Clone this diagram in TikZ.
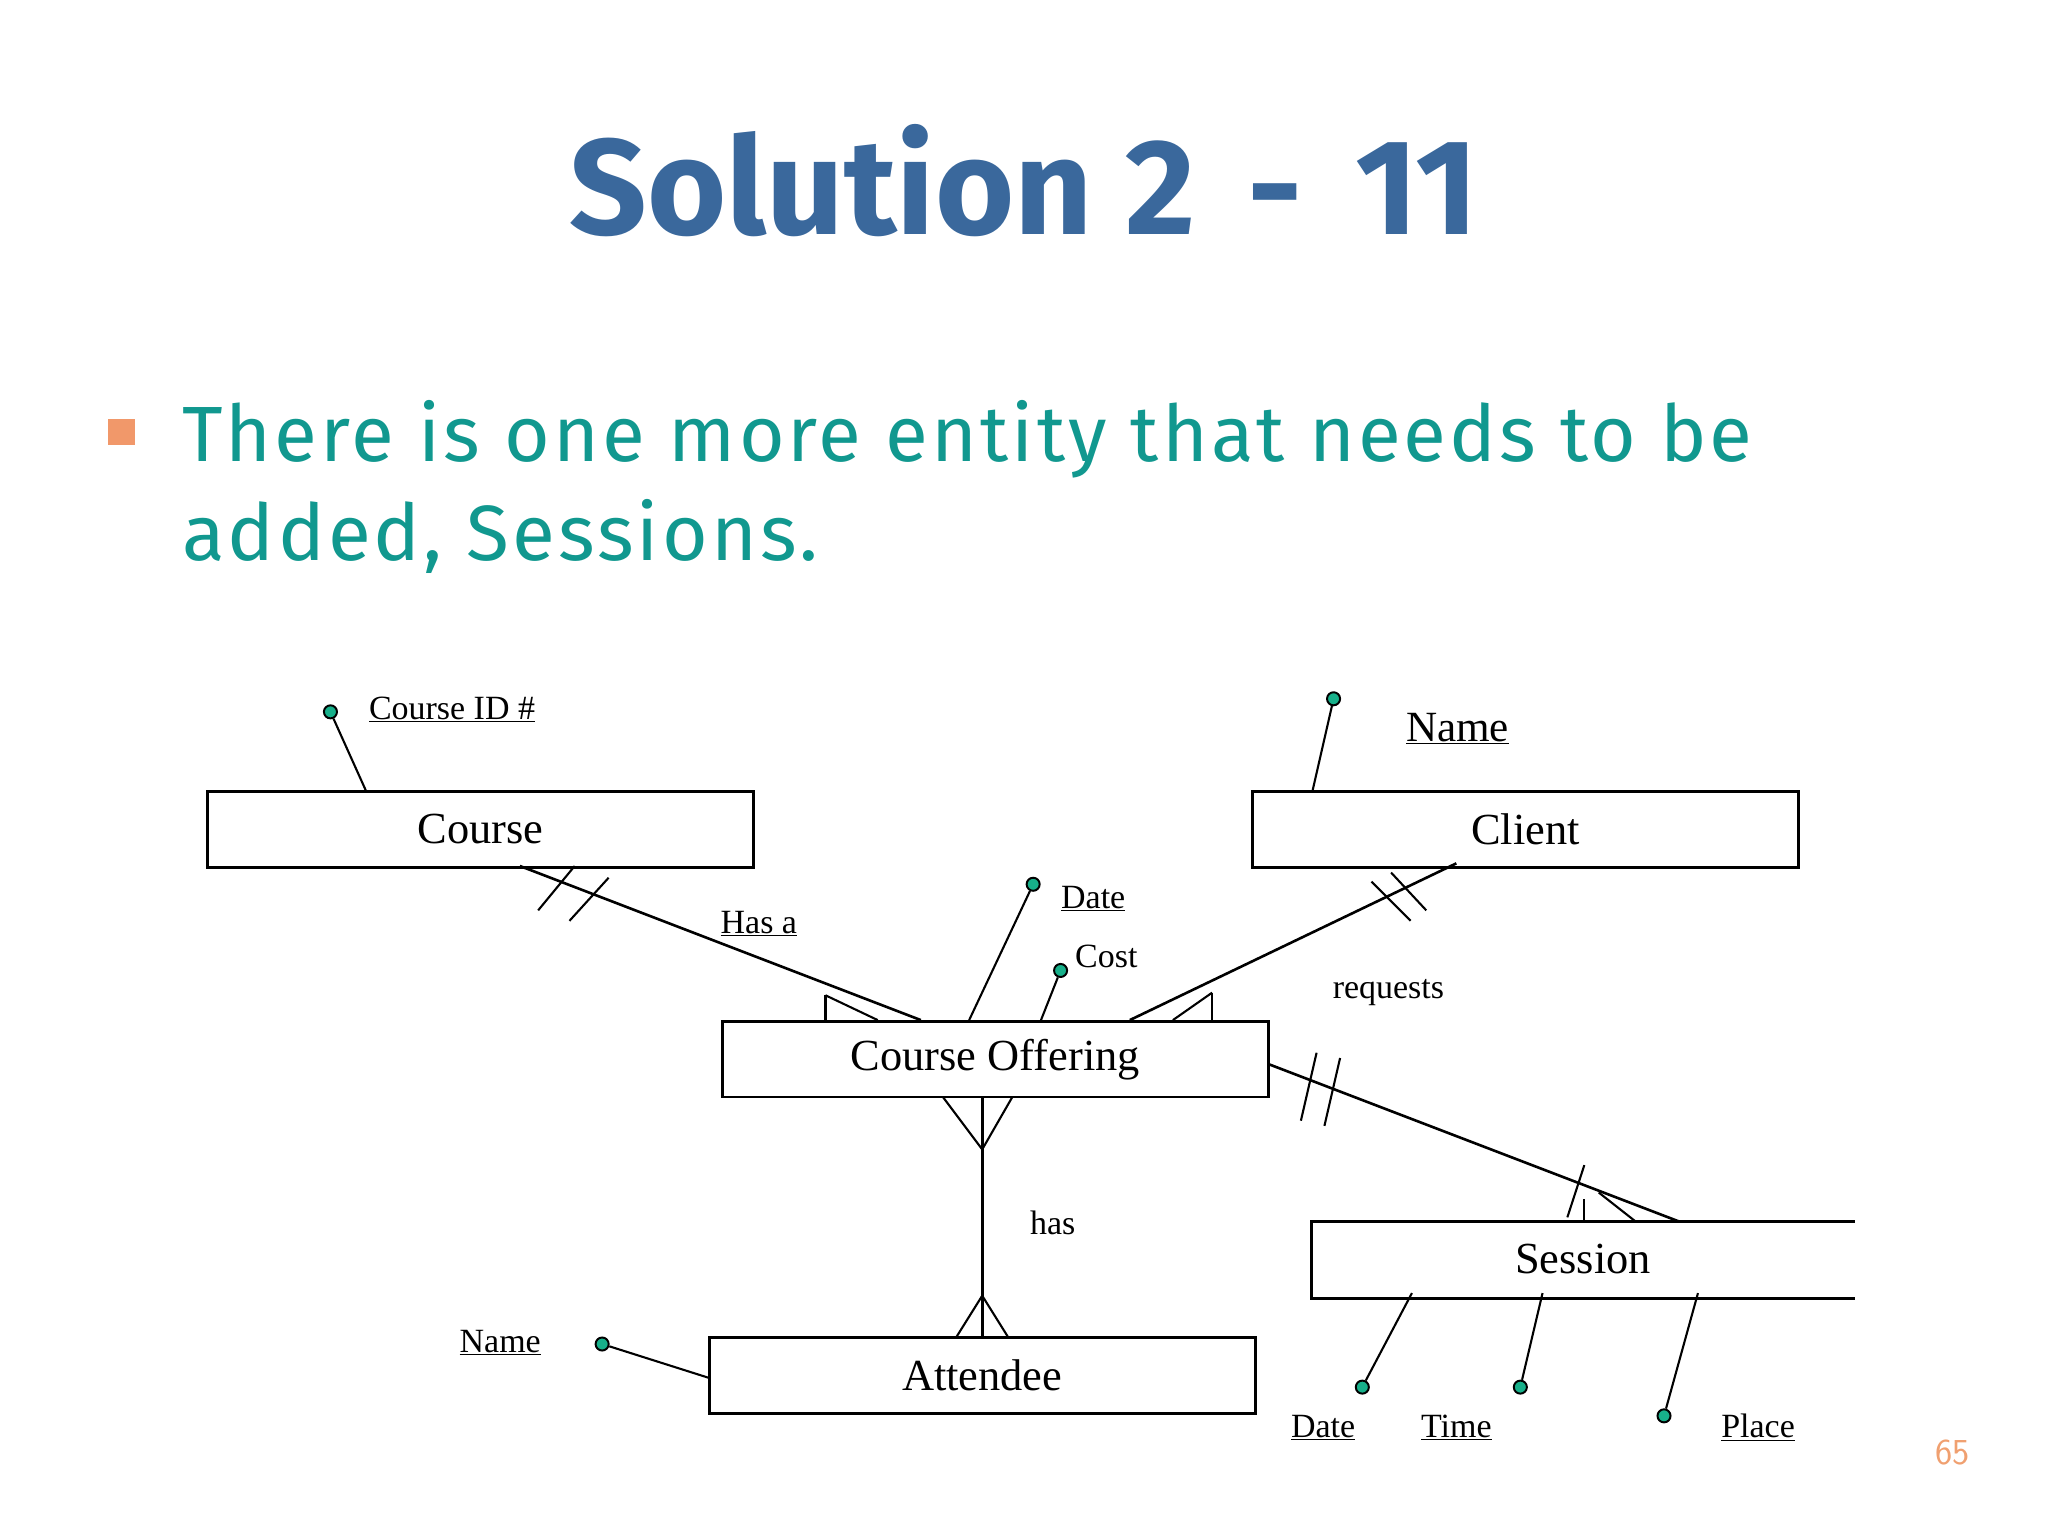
\documentclass[tikz,border=0pt]{standalone}
\usepackage{fontspec}
\setmainfont{Liberation Serif}
\newfontfamily\titlefont{Fira Sans}
\newfontfamily\bulfont[LetterSpace=4]{Fira Sans}
\definecolor{titleblue}{HTML}{3A689C}
\definecolor{teal}{HTML}{11988F}
\definecolor{dotgreen}{HTML}{17B08A}
\definecolor{pnum}{HTML}{F0A070}
\begin{document}
\begin{tikzpicture}[x=1pt,y=-1pt,
  ent/.style={draw,line width=2pt,minimum width=418pt,minimum height=58pt,inner sep=0pt,font=\fontsize{34}{38}\selectfont},
  att/.style={font=\fontsize{26}{30}\selectfont},
  rel/.style={line width=2pt},
  thin/.style={line width=1.6pt},
  dot/.style={circle,draw=black,fill=dotgreen,line width=1.5pt,inner sep=0pt,minimum size=10pt}]
\useasboundingbox (0,0) rectangle (1568,1176);
\node[font=\titlefont\bfseries\fontsize{104}{110}\selectfont,text=titleblue] (title) at (784,138) {Solution 2\hspace{40pt}-\hspace{40pt}11};
\fill[pnum!95!red] (83,321) rectangle (103,341);
\node[anchor=west,font=\bulfont\fontsize{60}{76}\selectfont,text=teal,align=left] (bul) at (136,373) {There is one more entity that needs to be\\added, Sessions.};
% entities
\node[ent] (course) at (368,635) {Course};
\node[ent] (client) at (1168,635) {Client};
\node[ent] (co) at (762,811) {Course Offering};
\node[ent] (att) at (752,1053) {Attendee};
\node[ent,draw=none] (ses) at (1212,964) {Session};
\draw[line width=2pt] (1420,935) -- (1004,935) -- (1004,994) -- (1420,994);
% attributes
\node[dot] (d1) at (253,545) {}; \draw[thin] (d1) -- (280,605);
\node[att,anchor=west] (l1) at (279,543) {\underline{Course ID \#}};
\node[dot] (d2) at (1021,535) {}; \draw[thin] (d2) -- (1005,605);
\node[att,font=\fontsize{33}{36}\selectfont] (l2) at (1116,558) {\underline{Name}};
\node[dot] (d3) at (791,677) {}; \draw[thin] (d3) -- (742,781);
\node[att] (l3) at (837,688) {\underline{Date}};
\node[dot] (d4) at (812,743) {}; \draw[thin] (d4) -- (797,781);
\node[att] (l4) at (847,732) {Cost};
\node[dot] (d5) at (461,1029) {}; \draw[thin] (d5) -- (543,1055);
\node[att] (l5) at (383,1028) {\underline{Name}};
\node[dot] (d6) at (1043,1062) {}; \draw[thin] (d6) -- (1081,990);
\node[dot] (d7) at (1164,1062) {}; \draw[thin] (d7) -- (1181,990);
\node[dot] (d8) at (1274,1084) {}; \draw[thin] (d8) -- (1300,990);
\node[att] (l6) at (1013,1093) {\underline{Date}};
\node[att] (l7) at (1115,1093) {\underline{Time}};
\node[att] (l8) at (1346,1093) {\underline{Place}};
% relationship labels
\node[att] (r1) at (581,707) {\underline{Has a}};
\node[att] (r2) at (1063,760) {requests};
\node[att] (r3) at (806,936) {has};
% Course - CO
\coordinate (a1) at (398,663); \coordinate (a2) at (705,781);
\draw[rel] (a1) -- (a2);
\draw[thin] (632,762) -- (672,781); \draw[thin] (632,762) -- (632,781);
\draw[thin] (412,697) -- (440,663); \draw[thin] (436,705) -- (466,672);
% Client - CO
\coordinate (b1) at (1115,661); \coordinate (b2) at (865,781);
\draw[rel] (b1) -- (b2);
\draw[thin] (928,760) -- (898,781); \draw[thin] (928,760) -- (928,781);
\draw[thin] (1050,675) -- (1080,705); \draw[thin] (1065,668) -- (1092,697);
% CO - Session
\coordinate (c1) at (972,815); \coordinate (c2) at (1285,935);
\draw[rel] (c1) -- (c2);
\draw[thin] (1008,806) -- (996,858); \draw[thin] (1026,810) -- (1014,862);
\draw[thin] (1213,892) -- (1200,932); \draw[thin] (1213,918) -- (1213,935);
\draw[thin] (1224,913) -- (1252,935);
% CO - Attendee
\draw[rel] (752,840) -- (752,1024);
\draw[thin] (722,840) -- (752,880) -- (775,840);
\draw[thin] (732,1024) -- (752,992) -- (772,1024);
\node[font=\sffamily\fontsize{28}{32}\selectfont,text=pnum] (pg) at (1495,1112) {65};
\end{tikzpicture}
\end{document}
